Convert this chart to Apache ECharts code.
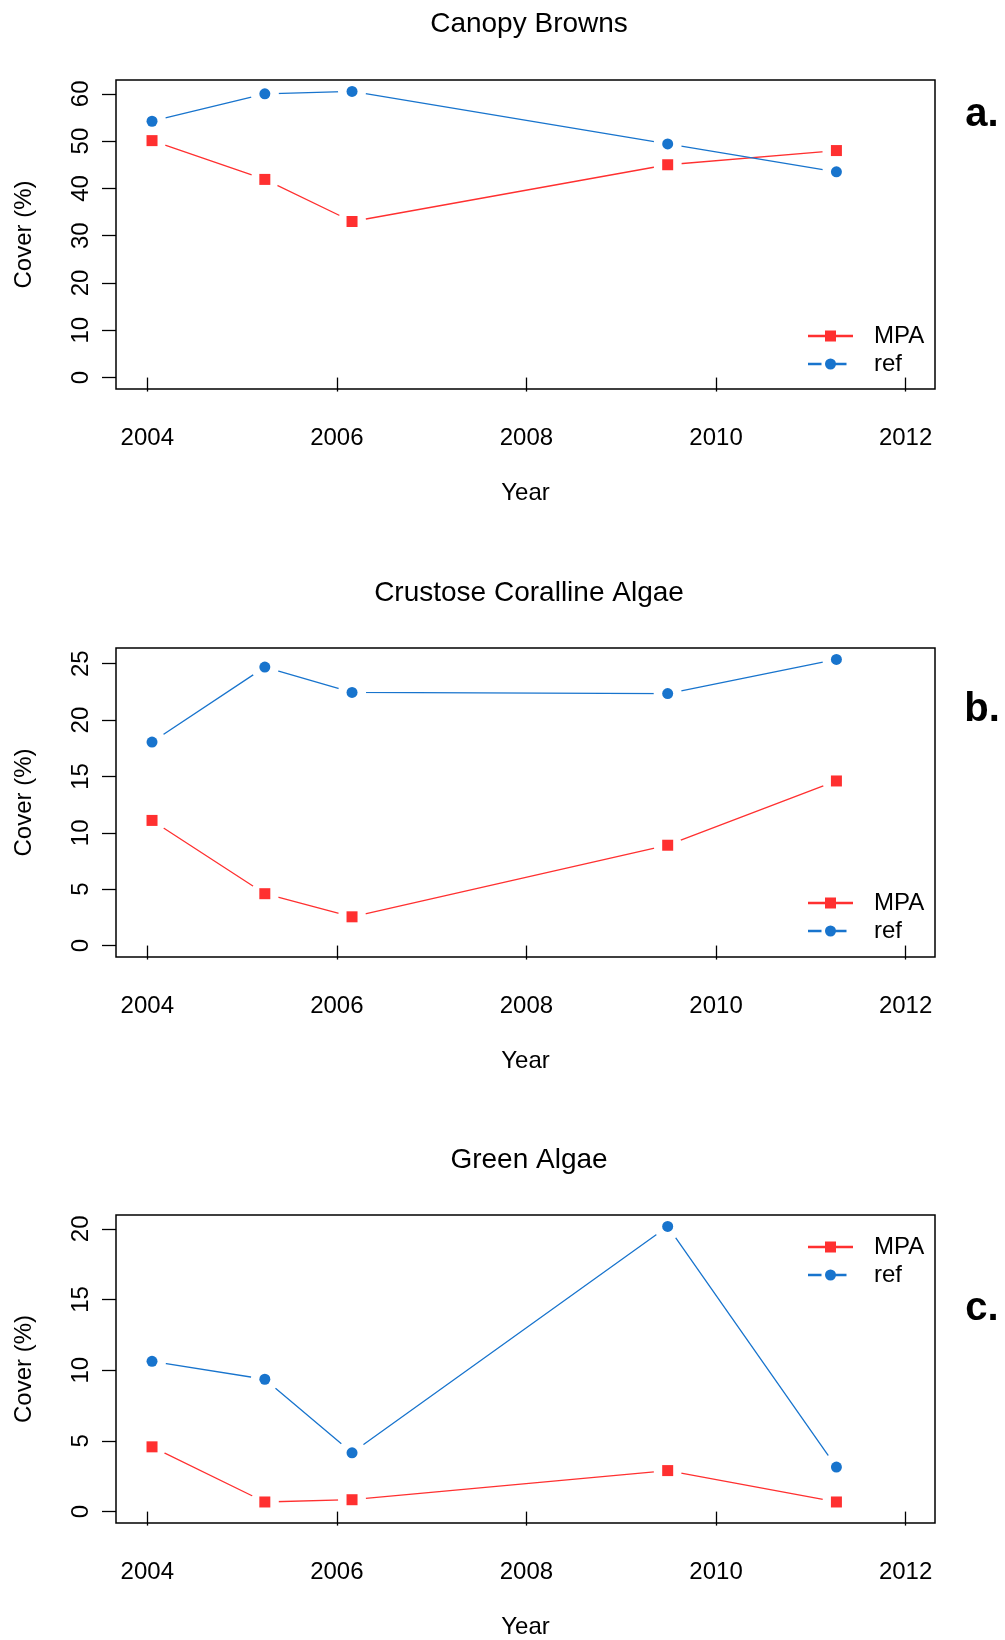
<!DOCTYPE html>
<html><head><meta charset="utf-8">
<script src="https://cdn.jsdelivr.net/npm/echarts@6/dist/echarts.min.js"></script>
<style>html,body{margin:0;padding:0;background:#fff}#c{width:1005px;height:1640px}</style>
</head><body><div id="c"></div>
<script>
// ---- data ----
const years = [2004.05, 2005.24, 2006.16, 2009.49, 2011.27];
const canopyMPA = [50.1, 41.9, 33.0, 45.0, 48.0];
const canopyRef = [54.2, 60.0, 60.5, 49.4, 43.5];
const ccaMPA = [11.1, 4.6, 2.55, 8.9, 14.6];
const ccaRef = [18.05, 24.7, 22.45, 22.35, 25.38];
const greenMPA = [4.58, 0.68, 0.84, 2.9, 0.68];
const greenRef = [10.63, 9.36, 4.16, 20.17, 3.15];
const xTicks = [2004, 2006, 2008, 2010, 2012];
const yTicksA = [0, 10, 20, 30, 40, 50, 60];
const yTicksB = [0, 5, 10, 15, 20, 25];
const yTicksC = [0, 5, 10, 15, 20];
const titles = ['Canopy Browns', 'Crustose Coralline Algae', 'Green Algae'];
const panelLabels = ['a.', 'b.', 'c.'];
const seriesNames = ['MPA', 'ref'];
const xLimits = [2004, 2012];

// ---- layout / style ----
const FONT = '"Liberation Sans", Arial, Helvetica, sans-serif';
const RED = '#ff3030', BLUE = '#1874cd';
const panels = [
  {mpa: canopyMPA, ref: canopyRef, ticks: yTicksA, top: 80, legendTop: 324, titleTop: 10, labelY: 115},
  {mpa: ccaMPA, ref: ccaRef, ticks: yTicksB, top: 648, legendTop: 891, titleTop: 579, labelY: 710},
  {mpa: greenMPA, ref: greenRef, ticks: yTicksC, top: 1215, legendTop: 1235, titleTop: 1146, labelY: 1309}
];
const GL = 116, GW = 819, GH = 309;
const xPadLeft = 0.33, xPadRight = 0.31;

const zip = v => years.map((y, i) => [y, v[i]]);

const iconMPA = 'path://M0,0 M61,12 M0,4.7 L45,4.7 L45,7.3 L0,7.3 Z M17,0.5 L28,0.5 L28,11.5 L17,11.5 Z';
const iconRef = 'path://M0,0 M61,12 M0,4.7 L13.5,4.7 L13.5,7.3 L0,7.3 Z M17,6 A5.5,5.5 0 1 1 28,6 A5.5,5.5 0 1 1 17,6 Z M27.5,4.7 L38.5,4.7 L38.5,7.3 L27.5,7.3 Z';

const grid = [], xAxis = [], yAxis = [], series = [], legend = [], title = [], graphic = [];
panels.forEach((p, i) => {
  const mx = Math.max(...p.mpa, ...p.ref);
  grid.push({left: GL, width: GW, top: p.top, height: GH, show: true, z: 10,
    borderColor: '#000', borderWidth: 1.5, backgroundColor: 'transparent', containLabel: false});
  xAxis.push({type: 'value', gridIndex: i, min: xLimits[0] - xPadLeft, max: xLimits[1] + xPadRight,
    name: 'Year', nameLocation: 'middle', nameGap: 92,
    nameTextStyle: {fontFamily: FONT, fontSize: 24, color: '#000'},
    axisLine: {show: false}, splitLine: {show: false},
    axisTick: {show: true, length: 14, inside: false, customValues: xTicks, lineStyle: {color: '#000', width: 1.3}},
    axisLabel: {customValues: xTicks, formatter: v => String(v), fontFamily: FONT, fontSize: 24, color: '#000', margin: 37}
  });
  yAxis.push({type: 'value', gridIndex: i, min: -0.04 * mx, max: mx * 1.04,
    name: 'Cover (%)', nameLocation: 'middle', nameGap: 80, nameRotate: 90,
    nameTextStyle: {fontFamily: FONT, fontSize: 24, color: '#000'},
    axisLine: {show: false}, splitLine: {show: false},
    axisTick: {show: true, length: 14, inside: false, customValues: p.ticks, lineStyle: {color: '#000', width: 1.3}},
    axisLabel: {customValues: p.ticks, rotate: 90, fontFamily: FONT, fontSize: 24, color: '#000', margin: 23}
  });
  // markers (first so legend picks them)
  series.push({type: 'scatter', name: seriesNames[0], xAxisIndex: i, yAxisIndex: i, data: zip(p.mpa),
    symbol: 'rect', symbolSize: 11, itemStyle: {color: RED, opacity: 1}, z: 4, silent: true});
  series.push({type: 'scatter', name: seriesNames[1], xAxisIndex: i, yAxisIndex: i, data: zip(p.ref),
    symbol: 'circle', symbolSize: 11, itemStyle: {color: BLUE, opacity: 1}, z: 4, silent: true});
  // lines with white gap halos (R type="b")
  series.push({type: 'line', name: seriesNames[0], xAxisIndex: i, yAxisIndex: i, data: zip(p.mpa),
    lineStyle: {color: RED, width: 1.3}, symbol: 'circle', symbolSize: 28, showSymbol: true,
    itemStyle: {color: '#fff', borderWidth: 0}, z: 2, silent: true, emphasis: {disabled: true}});
  series.push({type: 'line', name: seriesNames[1], xAxisIndex: i, yAxisIndex: i, data: zip(p.ref),
    lineStyle: {color: BLUE, width: 1.3}, symbol: 'circle', symbolSize: 28, showSymbol: true,
    itemStyle: {color: '#fff', borderWidth: 0}, z: 2, silent: true, emphasis: {disabled: true}});
  legend.push({orient: 'vertical', left: 808, top: p.legendTop, padding: 0, itemGap: 4,
    itemWidth: 61, itemHeight: 12, selectedMode: false,
    textStyle: {fontFamily: FONT, fontSize: 24, color: '#000', lineHeight: 24},
    data: [
      {name: seriesNames[0], icon: iconMPA, itemStyle: {color: RED, borderWidth: 0, opacity: 1}},
      {name: seriesNames[1], icon: iconRef, itemStyle: {color: BLUE, borderWidth: 0, opacity: 1}}
    ]});
  title.push({text: titles[i], left: 529, top: p.titleTop, textAlign: 'center', padding: 0,
    textStyle: {fontFamily: FONT, fontSize: 28, fontWeight: 'normal', color: '#000'}});
  graphic.push({type: 'text', x: 982, y: p.labelY,
    style: {text: panelLabels[i], font: 'bold 40px ' + FONT, fill: '#000', align: 'center', verticalAlign: 'middle'}});
});

const chart = echarts.init(document.getElementById('c'), null, {renderer: 'canvas'});
chart.setOption({animation: false, backgroundColor: '#fff', title, grid, xAxis, yAxis, legend, series, graphic});
</script></body></html>
